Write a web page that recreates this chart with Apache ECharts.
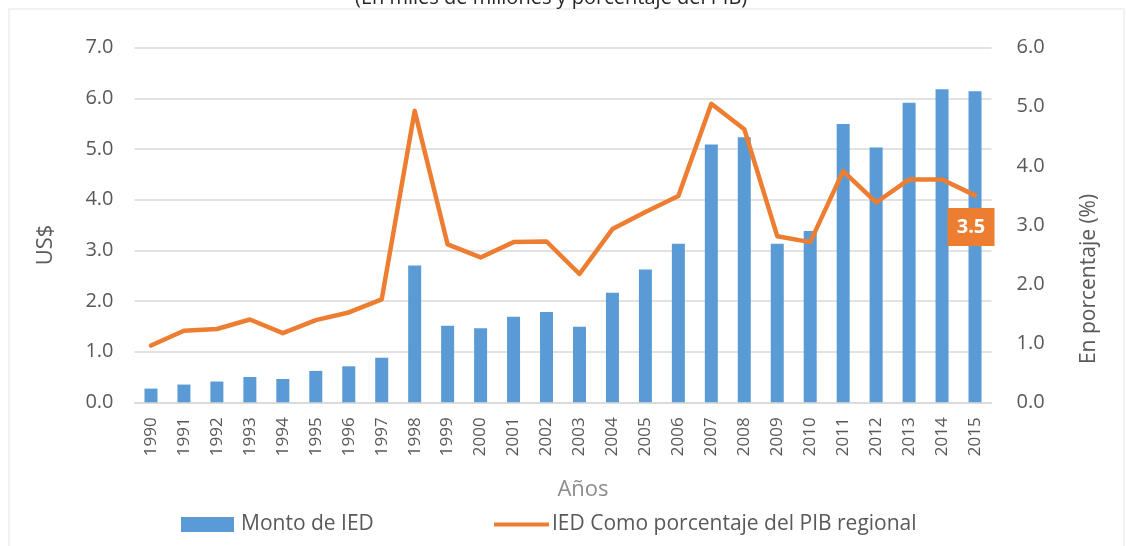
<!DOCTYPE html>
<html>
<head>
<meta charset="utf-8">
<script src="https://cdn.jsdelivr.net/npm/echarts@6/dist/echarts.min.js"></script>
<style>
    html, body { margin: 0; padding: 0; background: #ffffff; }
    #main { width: 1126px; height: 546px; }
</style>
</head>
<body>
<div id="main"></div>
<script>
    // datos
    const years = ['1990', '1991', '1992', '1993', '1994', '1995', '1996', '1997', '1998', '1999',
        '2000', '2001', '2002', '2003', '2004', '2005', '2006', '2007', '2008', '2009',
        '2010', '2011', '2012', '2013', '2014', '2015'];
    const montoIED = [0.27, 0.35, 0.41, 0.50, 0.46, 0.62, 0.71, 0.88, 2.70, 1.51,
        1.46, 1.69, 1.78, 1.49, 2.16, 2.62, 3.13, 5.09, 5.23, 3.13,
        3.38, 5.49, 5.03, 5.91, 6.18, 6.14];
    const pctPIB = [0.96, 1.21, 1.24, 1.40, 1.17, 1.39, 1.52, 1.74, 4.93, 2.67,
        2.45, 2.71, 2.72, 2.17, 2.93, 3.22, 3.49, 5.05, 4.62, 2.81,
        2.71, 3.91, 3.38, 3.77, 3.77, 3.50];
    const leftTicks = [0, 7, 1];   // min, max, intervalo
    const rightTicks = [0, 6, 1];

    const font = '"Open Sans", "Noto Sans", sans-serif';
    const textGray = '#595959';
    const blue = '#5B9BD5';
    const orange = '#ED7D31';
    const last = years.length - 1;

    const chart = echarts.init(document.getElementById('main'));

    const option = {
        backgroundColor: '#ffffff',
        animation: false,
        textStyle: { fontFamily: font },
        title: {
            text: '(En miles de millones y porcentaje del PIB)',
            left: 355,
            top: -12,
            padding: 0,
            textStyle: { fontFamily: font, fontSize: 20, fontWeight: 'normal', color: '#262626' }
        },
        graphic: [{
            type: 'rect',
            shape: { x: 9, y: 9, width: 1115, height: 600 },
            style: { fill: 'none', stroke: '#eeeeee', lineWidth: 1.5 },
            silent: true
        }],
        legend: [{
            data: [{ name: 'Monto de IED', icon: 'rect' }],
            left: 181,
            top: 514,
            itemWidth: 53,
            itemHeight: 15,
            itemGap: 0,
            padding: 0,
            textStyle: { fontFamily: font, fontSize: 21, color: textGray, padding: [0, 0, 0, 2] }
        }, {
            data: [{ name: 'IED Como porcentaje del PIB regional', icon: 'path://M0,0 H55 V4 H0 Z' }],
            left: 494,
            top: 514,
            itemWidth: 55,
            itemHeight: 15,
            padding: 0,
            textStyle: { fontFamily: font, fontSize: 21, color: textGray, padding: [0, 0, 0, -2] }
        }],
        grid: {
            left: 134.5,
            right: 134.5,
            top: 47.6,
            bottom: 143.7,
            containLabel: false
        },
        xAxis: {
            type: 'category',
            data: years,
            name: 'Años',
            nameLocation: 'middle',
            nameGap: 76,
            nameTextStyle: { fontFamily: font, fontSize: 22, color: '#8c8c8c', padding: [0, 0, 0, 40] },
            axisLine: { lineStyle: { color: '#d9d9d9', width: 1.5 } },
            axisTick: { show: false },
            axisLabel: { rotate: 90, margin: 15, fontFamily: font, fontSize: 17, color: textGray }
        },
        yAxis: [{
            type: 'value',
            min: leftTicks[0],
            max: leftTicks[1],
            interval: leftTicks[2],
            name: 'US$',
            nameLocation: 'middle',
            nameRotate: 90,
            nameGap: 78,
            nameTextStyle: { fontFamily: font, fontSize: 22, color: textGray, padding: [0, 40, 0, 0] },
            axisLine: { show: false },
            axisTick: { show: false },
            axisLabel: {
                margin: 21,
                fontFamily: font, fontSize: 20, color: textGray,
                formatter: v => v.toFixed(1)
            },
            splitLine: { lineStyle: { color: '#d9d9d9', width: 1.5 } }
        }, {
            type: 'value',
            position: 'right',
            min: rightTicks[0],
            max: rightTicks[1],
            interval: rightTicks[2],
            name: 'En porcentaje (%)',
            nameLocation: 'middle',
            nameRotate: 90,
            nameGap: 87,
            nameTextStyle: { fontFamily: font, fontSize: 21, color: textGray, padding: [0, 108, 0, 0] },
            axisLine: { show: false },
            axisTick: { show: false },
            axisLabel: {
                margin: 25,
                fontFamily: font, fontSize: 20, color: textGray,
                formatter: v => v.toFixed(1)
            },
            splitLine: { show: false }
        }],
        series: [{
            name: 'Monto de IED',
            type: 'bar',
            data: montoIED,
            barWidth: 13,
            itemStyle: { color: blue }
        }, {
            name: 'IED Como porcentaje del PIB regional',
            type: 'line',
            yAxisIndex: 1,
            data: pctPIB,
            symbol: 'none',
            lineStyle: { color: orange, width: 4.5, join: 'round', cap: 'round' },
            itemStyle: { color: orange },
            markPoint: {
                symbol: 'rect',
                symbolSize: [47, 38],
                symbolOffset: [-4, 31.5],
                itemStyle: { color: orange },
                label: {
                    show: true,
                    color: '#ffffff',
                    fontFamily: font,
                    fontWeight: 'bold',
                    fontSize: 20,
                    formatter: p => p.value.toFixed(1)
                },
                data: [{ coord: [years[last], pctPIB[last]], value: pctPIB[last] }]
            }
        }]
    };

    chart.setOption(option);
</script>
</body>
</html>
